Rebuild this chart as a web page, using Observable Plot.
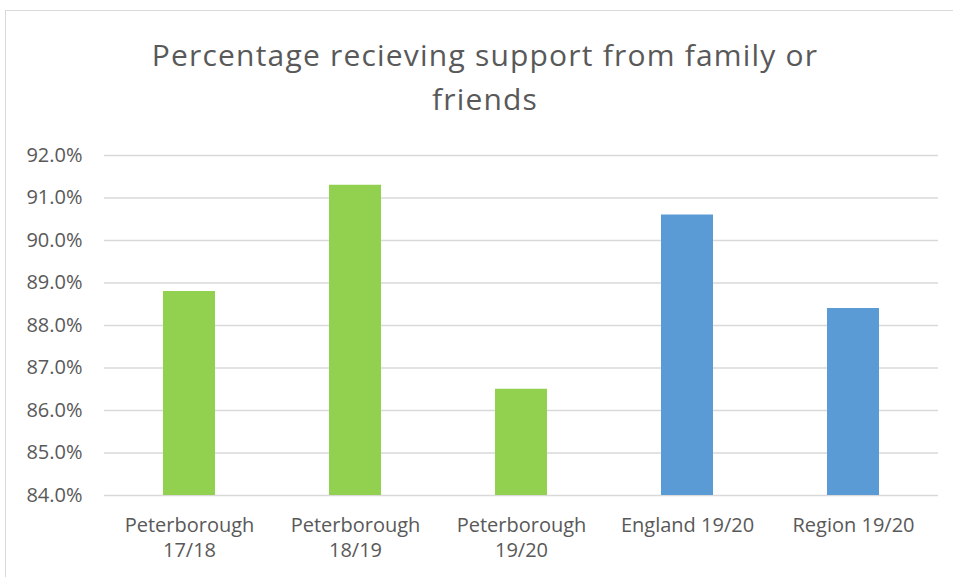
<!DOCTYPE html>
<html>
<head>
<meta charset="utf-8">
<script src="https://cdn.jsdelivr.net/npm/d3@7"></script>
<script src="https://cdn.jsdelivr.net/npm/@observablehq/plot@0.6"></script>
<style>
  html, body { margin: 0; padding: 0; background: #fff; }
  #wrap { position: relative; width: 953px; height: 577px; overflow: hidden; background: #fff; }
  #frame { position: absolute; left: 5px; top: 10px; width: 960px; height: 600px; border-left: 1px solid #d9d9d9; border-top: 1px solid #d9d9d9; }
  #title { position: absolute; left: 0; top: 33px; width: 970px; text-align: center; font-family: "Open Sans", sans-serif; font-size: 30px; letter-spacing: 1.2px; line-height: 44px; color: #595959; }
  #chart { position: absolute; left: 0; top: 0; }
</style>
</head>
<body>
<div id="wrap">
  <div id="frame"></div>
  <div id="title"></div>
  <div id="chart"></div>
</div>
<script>
const titleLines = ["Percentage recieving support from family or", "friends"];
const categories = ["Peterborough 17/18", "Peterborough 18/19", "Peterborough 19/20", "England 19/20", "Region 19/20"];
const xTickLabels = ["Peterborough\n17/18", "Peterborough\n18/19", "Peterborough\n19/20", "England 19/20", "Region 19/20"];
const values = [88.8, 91.3, 86.5, 90.6, 88.4];
const groups = ["Peterborough", "Peterborough", "Peterborough", "Comparator", "Comparator"];
const groupNames = ["Peterborough", "Comparator"];
const groupColors = ["#92D050", "#5B9BD5"];
const yTicks = [84, 85, 86, 87, 88, 89, 90, 91, 92];
const yMin = 84, yMax = 92;

document.getElementById("title").innerHTML = titleLines.join("<br>");

const data = categories.map((c, i) => ({category: c, value: values[i], group: groups[i]}));

const chart = Plot.plot({
  width: 953,
  height: 577,
  marginTop: 155,
  marginBottom: 82,
  marginLeft: 104,
  marginRight: 15,
  style: {fontFamily: "Open Sans, sans-serif", fontSize: "20px", color: "#595959", background: "transparent", overflow: "visible"},
  x: {domain: categories, paddingInner: 0.688, paddingOuter: 0.344, label: null},
  y: {domain: [yMin, yMax], label: null},
  color: {domain: groupNames, range: groupColors},
  marks: [
    Plot.ruleY(yTicks, {stroke: "#d9d9d9", strokeWidth: 1.3}),
    Plot.barY(data, {x: "category", y1: yMin, y2: "value", fill: "group"}),
    Plot.axisY({ticks: yTicks, tickFormat: d => d.toFixed(1) + "%", tickSize: 0, tickPadding: 22, label: null, fontSize: 20}),
    Plot.axisX({tickSize: 0, tickPadding: 19, label: null, fontSize: 20, lineHeight: 1.25,
      tickFormat: d => xTickLabels[categories.indexOf(d)]})
  ]
});
document.getElementById("chart").appendChild(chart);
</script>
</body>
</html>
